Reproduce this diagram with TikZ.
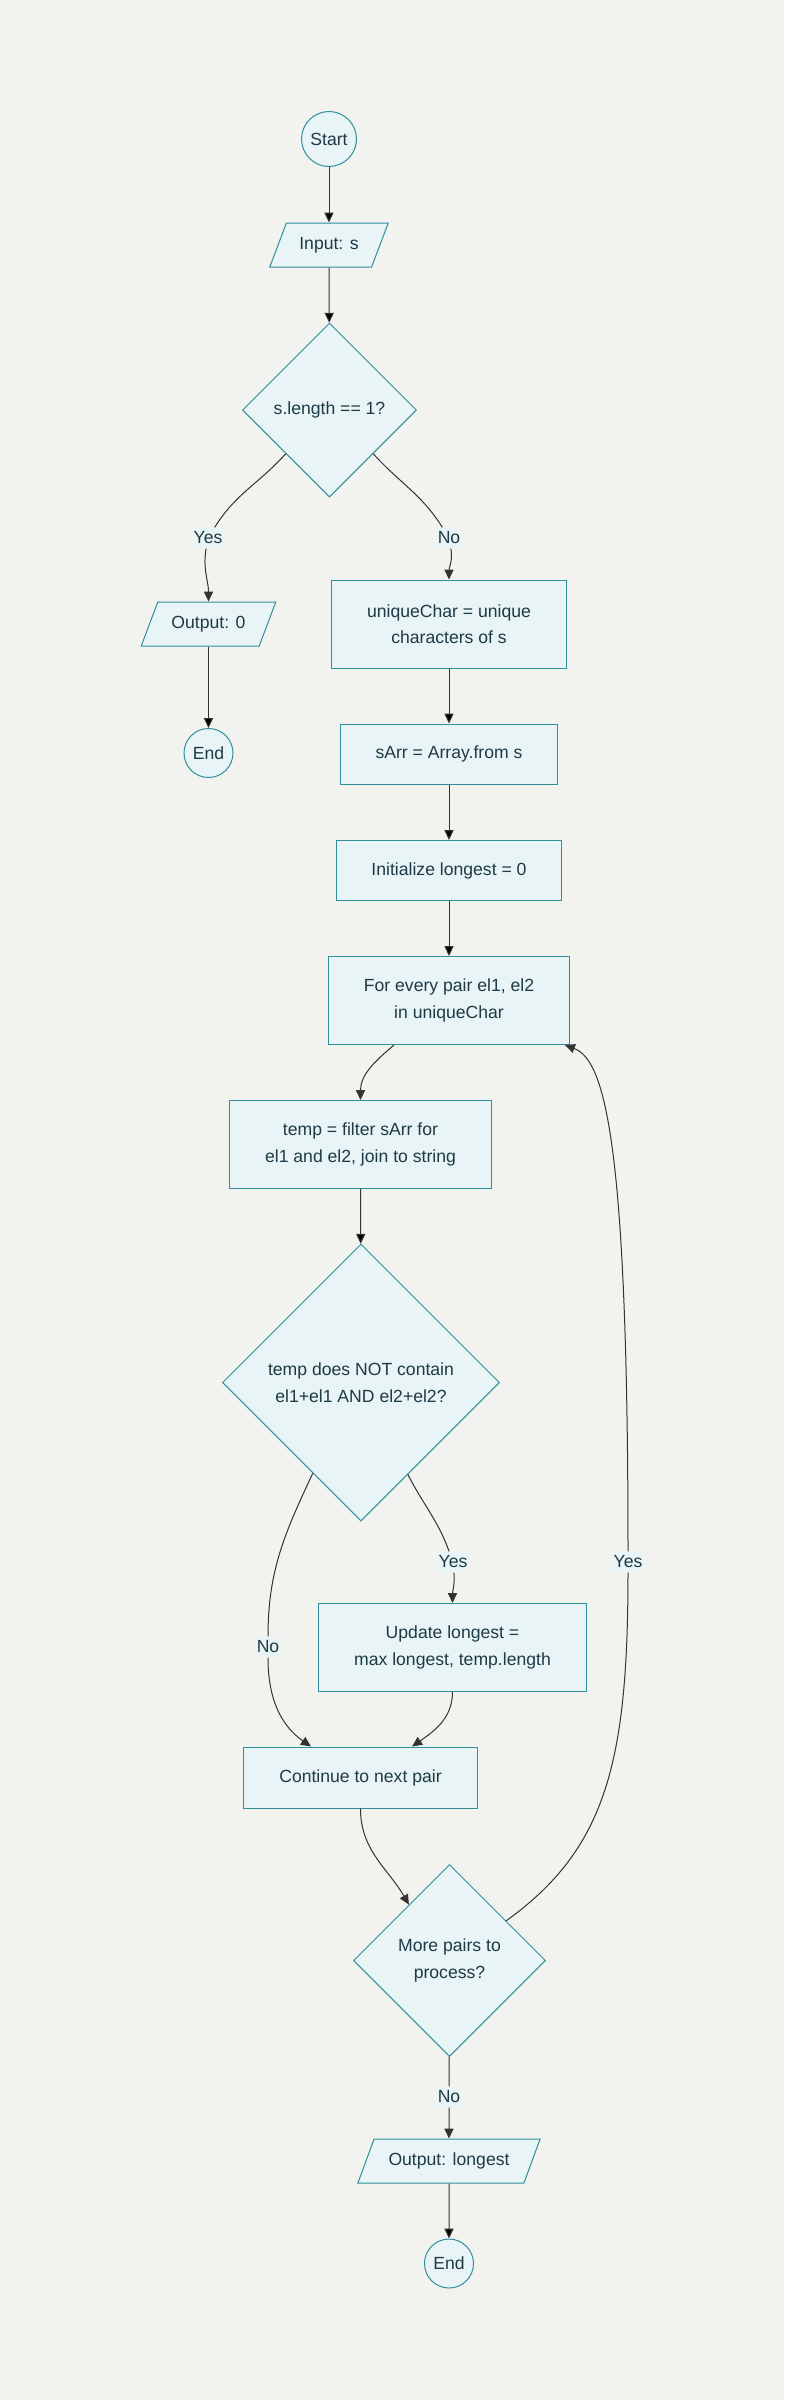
\documentclass[tikz,border=0pt]{standalone}
\usepackage{fontspec}
\setmainfont{Liberation Sans}
\usetikzlibrary{shapes.geometric,arrows.meta}
\definecolor{bgcol}{HTML}{F2F3EE}
\definecolor{nodefill}{HTML}{E8F4F5}
\definecolor{nodeline}{HTML}{2F8F9D}
\definecolor{txtcol}{HTML}{1E3A46}
\definecolor{linecol}{HTML}{333333}
\begin{document}
\begin{tikzpicture}[x=0.5pt, y=-0.5pt,
    font=\fontsize{8.8pt}{13.3pt}\selectfont,
    >={Triangle[length=5pt,width=4.6pt]},
    line width=0.5pt,
    term/.style={draw=nodeline, circle, fill=nodefill, text=txtcol, inner sep=0pt},
    io/.style={draw=nodeline, trapezium, trapezium left angle=64,
               trapezium right angle=116, trapezium stretches=true,
               fill=nodefill, text=txtcol, minimum height=22pt},
    proc/.style={draw=nodeline, rectangle, fill=nodefill, text=txtcol, align=center},
    dec/.style={draw=nodeline, diamond, fill=nodefill, text=txtcol, align=center, inner sep=0pt},
    lbl/.style={fill=nodefill, text=txtcol, inner xsep=0pt, inner ysep=2pt},
    conn/.style={->, draw=linecol}]
	\fill[bgcol] (0,0) rectangle (784,2400);

	\node[term, minimum size=27.5pt] (start) at (329,139) {Start};
	\node[io, minimum width=59.5pt] (inp) at (329,245) {Input: s};
	\node[dec, minimum width=87pt, minimum height=87pt] (d1) at (329.5,410) {s.length == 1?};
	\node[io, minimum width=67.5pt] (out0) at (208.5,624) {Output: 0};
	\node[term, minimum size=24.5pt] (end1) at (208.5,753) {End};
	\node[proc, minimum width=117.5pt, minimum height=44pt] (uc) at (449,624) {uniqueChar = unique\\characters of s};
	\node[proc, minimum width=108.5pt, minimum height=30pt] (sarr) at (449,754) {sArr = Array.from s};
	\node[proc, minimum width=112.5pt, minimum height=30pt] (init) at (449,870.5) {Initialize longest = 0};
	\node[proc, minimum width=120.5pt, minimum height=44pt] (pairs) at (449,1000.5) {For every pair el1, el2\\in uniqueChar};
	\node[proc, minimum width=131pt, minimum height=44pt] (temp) at (360.5,1144.5) {temp = filter sArr for\\el1 and el2, join to string};
	\node[dec, minimum width=138.5pt, minimum height=138.5pt] (d2) at (361,1382.5) {temp does NOT contain\\el1+el1 AND el2+el2?};
	\node[proc, minimum width=134pt, minimum height=44pt] (upd) at (452.5,1647.5) {Update longest =\\max longest, temp.length};
	\node[proc, minimum width=117pt, minimum height=30.5pt] (cont) at (360.5,1777.5) {Continue to next pair};
	\node[dec, minimum width=96pt, minimum height=96pt] (d3) at (449.5,1960.5) {More pairs to\\process?};
	\node[io, minimum width=91.5pt] (outl) at (449,2161) {Output: longest};
	\node[term, minimum size=24.5pt] (end2) at (449,2263.5) {End};

	\node[lbl] (yes1) at (208,538) {Yes};
	\node[lbl] (no1) at (449,538) {No};
	\node[lbl] (no2) at (268,1647) {No};
	\node[lbl] (yes2) at (453,1562) {Yes};
	\node[lbl] (yes3) at (628,1562) {Yes};
	\node[lbl] (no3) at (449,2097) {No};

	\path[conn] (start) edge (inp);
	\path[conn] (inp) edge (d1);
	\draw[conn] (d1.south west) to[out=228,in=58] (yes1) to[out=-100,in=90] (out0);
	\draw[conn] (d1.south east) to[out=-48,in=122] (no1) to[out=-80,in=90] (uc);
	\path[conn] (out0) edge (end1);
	\path[conn] (uc) edge (sarr);
	\path[conn] (sarr) edge (init);
	\path[conn] (init) edge (pairs);
	\draw[conn] (pairs.219) to[out=-140,in=90] (temp);
	\path[conn] (temp) edge (d2);
	\draw[conn] (d2.242) to[out=245,in=90] (no2) to[out=-90,in=145] (cont.148);
	\draw[conn] (d2.297) to[out=-63,in=110] (yes2) to[out=-85,in=90] (upd);
	\draw[conn] (upd) to[out=-90,in=35] (cont.31);
	\draw[conn] (cont) to[out=-90,in=120] (d3.126);
	\draw[conn] (d3.35) .. controls +(100,-72) and +(0,200) .. (yes3)
	    .. controls +(0,-420) and +(40,15) .. (pairs.-21);
	\draw[conn] (d3) -- (no3) -- (outl);
	\path[conn] (outl) edge (end2);

\end{tikzpicture}
\end{document}
